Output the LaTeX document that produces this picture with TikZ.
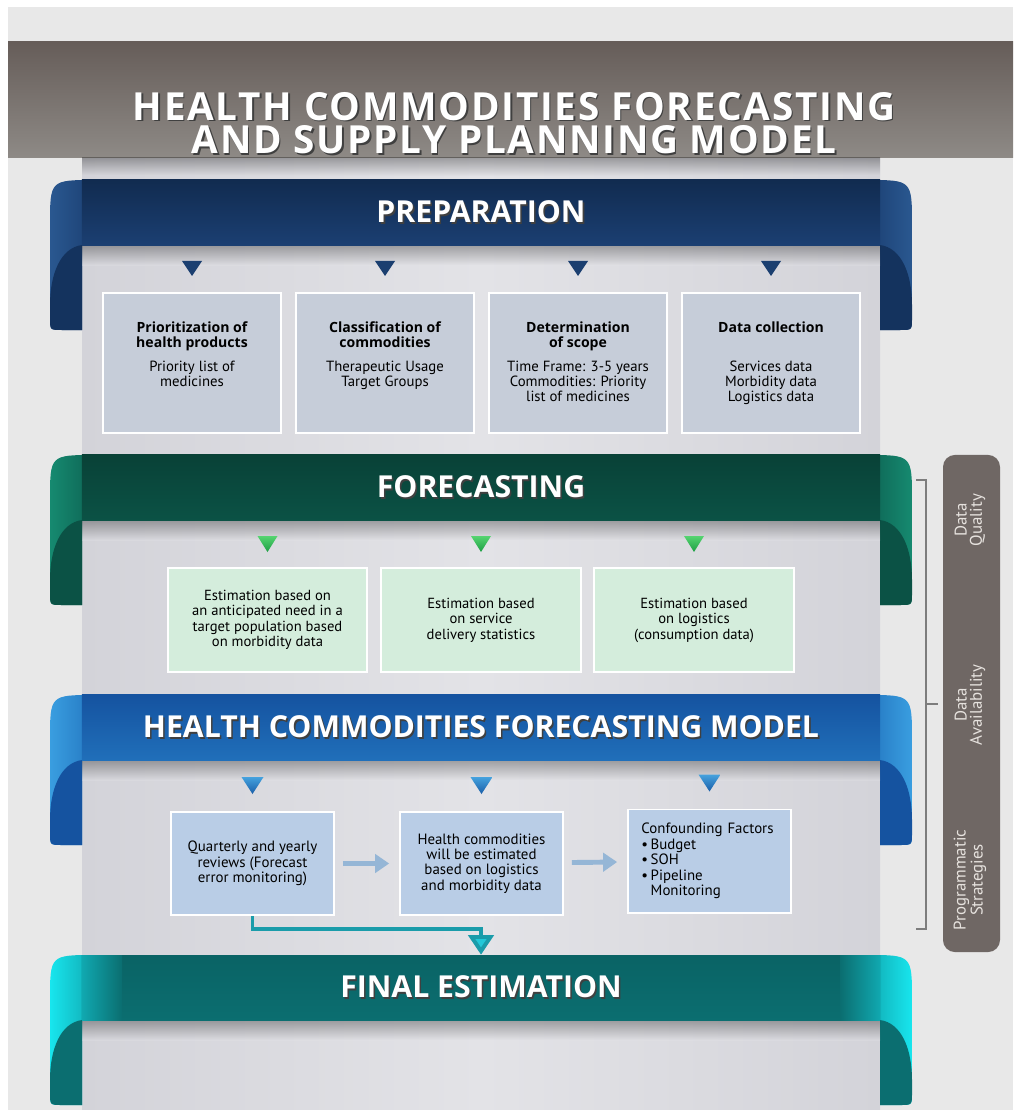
\documentclass[tikz,border=0pt]{standalone}
\usepackage{fontspec}
\setmainfont{PT Sans}
\newfontfamily\headfont{Open Sans}
\newfontfamily\titlefont[LetterSpace=4.5]{Open Sans}
\usetikzlibrary{calc,arrows.meta}

\definecolor{bggray}{HTML}{E8E8E8}
\definecolor{panelmid}{HTML}{E3E3E7}
\definecolor{paneledge}{HTML}{D3D3D9}
\definecolor{titletop}{HTML}{665D59}
\definecolor{titlebot}{HTML}{8E8A86}
% ribbon colours: light curl, mid curl, back of curl
\definecolor{navylite}{HTML}{2A5890}
\definecolor{navymid}{HTML}{1B3F72}
\definecolor{navyback}{HTML}{14335E}
\definecolor{pinelite}{HTML}{168A70}
\definecolor{pinemid}{HTML}{0D6353}
\definecolor{pineback}{HTML}{0B5245}
\definecolor{azurelite}{HTML}{3A9EE0}
\definecolor{azuremid}{HTML}{2376C0}
\definecolor{azureback}{HTML}{1553A0}
\definecolor{finlite}{HTML}{18E6EE}
\definecolor{finmid}{HTML}{10A8B0}
\definecolor{finback}{HTML}{0B6E70}
% boxes
\definecolor{prepfill}{HTML}{C6CDD9}
\definecolor{fcstfill}{HTML}{D4EDDC}
\definecolor{modelfill}{HTML}{B9CDE6}
\definecolor{navymark}{HTML}{1B3F70}
\definecolor{greenA}{HTML}{55D470}
\definecolor{greenB}{HTML}{1E9E44}
\definecolor{blueA}{HTML}{45A2DE}
\definecolor{blueB}{HTML}{1A5EA8}
\definecolor{arrowblue}{HTML}{95B6D6}
\definecolor{feedteal}{HTML}{1A9CAA}
\definecolor{feedcyan}{HTML}{22C8D8}
\definecolor{sidegray}{HTML}{6F6764}
\definecolor{sidetextc}{HTML}{E6E2DE}
\definecolor{bracketgray}{HTML}{7D7D7D}

\newcommand\shadowed[1]{\makebox[0pt][l]{\kern1.1pt\raisebox{-1.1pt}{\color{black!75}#1}}#1}
\newcommand\boxhead[1]{{\headfont\bfseries\fontsize{10}{11.3}\selectfont #1}}

\begin{document}
\begin{tikzpicture}[
    x=0.025cm, y=-0.025cm,
    band/.style={minimum width=19.95cm, minimum height=1.625cm, inner sep=0pt,
        text=white, font=\headfont\bfseries\fontsize{21.5}{24}\selectfont},
    prepbox/.style={draw=white, line width=1.4pt, fill=prepfill, inner sep=0pt,
        minimum width=4.45cm, minimum height=3.5cm, font=\fontsize{10.5}{10.8}\selectfont},
    fcstbox/.style={draw=white, line width=1.4pt, fill=fcstfill, align=center,
        minimum width=4.975cm, minimum height=2.6cm, font=\fontsize{10.4}{11}\selectfont},
    modelbox/.style={draw=white, line width=1.4pt, fill=modelfill, align=center,
        minimum width=4.075cm, minimum height=2.575cm, font=\fontsize{10.6}{11}\selectfont},
    steparrow/.style={-{Triangle[length=10pt,width=13pt]}, line width=3.5pt,
        draw=arrowblue, shorten <=5.6pt, shorten >=7pt},
    feedline/.style={-{Triangle[length=14pt,width=18pt,fill=feedcyan]},
        line width=2.8pt, draw=feedteal},
    sidetext/.style={text=sidetextc, align=center, rotate=90,
        font=\fontsize{12}{11}\selectfont}
]
\useasboundingbox (0,0) rectangle (1013,1110);

% Background
\fill[white] (0,0) rectangle (1013,1110);
\fill[bggray] (8,7) rectangle (1013,1110);
\shade[left color=paneledge, right color=paneledge, middle color=panelmid] (82,158) rectangle (880,1110);

% Title
\shade[top color=titletop, bottom color=titlebot] (8,42) rectangle (1013,158);
\shade[top color=black, bottom color=panelmid, opacity=0.3] (82,158) rectangle (880,176);
\node[text=white, align=center, font=\titlefont\bfseries\fontsize{27.5}{24}\selectfont] (title) at (514,124)
    {\shadowed{HEALTH COMMODITIES FORECASTING}\\\shadowed{AND SUPPLY PLANNING MODEL}};

% Ribbon curls
\foreach \yy/\lite/\mid/\back in {180/navylite/navymid/navyback, 455/pinelite/pinemid/pineback,
        695/azurelite/azuremid/azureback, 955/finlite/finmid/finback} {
    % left curl
    \shade[left color=\lite, right color=\mid] (95,\yy) .. controls (50,\yy) .. (50,\yy+45)
        -- (50,\yy+138) .. controls (50,\yy+150) .. (62,\yy+150) -- (82,\yy+150) -- (82,\yy+65)
        -- (95,\yy+65) -- cycle;
    \fill[\back] (82,\yy+65) .. controls (60,\yy+68) and (50,\yy+95) .. (50,\yy+125)
        -- (50,\yy+138) .. controls (50,\yy+150) .. (62,\yy+150) -- (82,\yy+150) -- cycle;
    % right curl
    \shade[left color=\mid, right color=\lite] (867,\yy) .. controls (912,\yy) .. (912,\yy+45)
        -- (912,\yy+138) .. controls (912,\yy+150) .. (900,\yy+150) -- (880,\yy+150) -- (880,\yy+65)
        -- (867,\yy+65) -- cycle;
    \fill[\back] (880,\yy+65) .. controls (902,\yy+68) and (912,\yy+95) .. (912,\yy+125)
        -- (912,\yy+138) .. controls (912,\yy+150) .. (900,\yy+150) -- (880,\yy+150) -- cycle;
    % shadow under the band
    \shade[top color=black, bottom color=panelmid, opacity=0.3] (82,\yy+65) rectangle (880,\yy+85);
}

% Bands
\node[band, top color=navyback!85!black, bottom color=navymid] (prep) at (481,212.5) {\shadowed{PREPARATION}};
\node[band, top color=pineback!80!black, bottom color=pineback] (fcst) at (481,487.5) {\shadowed{FORECASTING}};
\node[band, top color=azureback, bottom color=azuremid!80!azureback] (model) at (481,727.5)
    {\shadowed{HEALTH COMMODITIES FORECASTING MODEL}};
\node[band, top color=finback!90!black, bottom color=finback] (final) at (481,987.5) {};
\shade[left color=finmid, right color=finback] (82,955) rectangle (122,1020);
\shade[left color=finback, right color=finmid] (840,955) rectangle (880,1020);
\node[text=white, font=\headfont\bfseries\fontsize{21.5}{24}\selectfont] (fintext) at (final) {\shadowed{FINAL ESTIMATION}};

% Preparation boxes
\node[prepbox] (p1) at (192,363) {\parbox[c][3.5cm][t]{4.3cm}{\centering\vspace*{0.72cm}%
    \boxhead{Prioritization of\\health products}\\[6pt]Priority list of\\medicines}};
\node[prepbox] (p2) at (385,363) {\parbox[c][3.5cm][t]{4.3cm}{\centering\vspace*{0.72cm}%
    \boxhead{Classification of\\commodities}\\[6pt]Therapeutic Usage\\Target Groups}};
\node[prepbox] (p3) at (578,363) {\parbox[c][3.5cm][t]{4.3cm}{\centering\vspace*{0.72cm}%
    \boxhead{Determination\\of scope}\\[6pt]Time Frame: 3-5 years\\Commodities: Priority\\list of medicines}};
\node[prepbox] (p4) at (771,363) {\parbox[c][3.5cm][t]{4.3cm}{\centering\vspace*{0.72cm}%
    \boxhead{Data collection}\\[17pt]Services data\\Morbidity data\\Logistics data}};

% Forecasting boxes
\node[fcstbox] (f1) at (267.5,620) {Estimation based on\\an anticipated need in a\\target population based\\on morbidity data};
\node[fcstbox] (f2) at (481,620) {Estimation based\\on service\\delivery statistics};
\node[fcstbox] (f3) at (694,620) {Estimation based\\on logistics\\(consumption data)};

% Model boxes
\node[modelbox] (m1) at (252.5,863.5) {Quarterly and yearly\\reviews (Forecast\\error monitoring)};
\node[modelbox] (m2) at (481.5,863.5) {Health commodities\\will be estimated\\based on logistics\\and morbidity data};
\node[modelbox, align=left, text width=3.4cm] (m3) at (709.5,861)
    {Confounding Factors\\\textbullet\,Budget\\\textbullet\,SOH\\\textbullet\,Pipeline\\\phantom{\textbullet\,}Monitoring};

% Markers above the boxes
\foreach \b in {p1,p2,p3,p4}
    \fill[navymark] ($(\b.north)+(-10,-31)$) -- ($(\b.north)+(10,-31)$) -- ($(\b.north)+(0,-16)$) -- cycle;
\foreach \b in {f1,f2,f3}
    \shade[top color=greenA, bottom color=greenB] ($(\b.north)+(-10,-31)$) -- ($(\b.north)+(10,-31)$) -- ($(\b.north)+(0,-15)$) -- cycle;
\foreach \b in {m1,m2,m3}
    \shade[top color=blueA, bottom color=blueB] ($(\b.north)+(-11,-34)$) -- ($(\b.north)+(11,-34)$) -- ($(\b.north)+(0,-17)$) -- cycle;

% Flow arrows
\draw[steparrow] (m1) -- (m2);
\draw[steparrow] (m2) -- (m3);
\draw[feedline] (m1.south) -- ++(0,13) -| (final.north);

% Side bar
\draw[bracketgray, line width=1.8pt] (916,480) -- (926,480) -- (926,929) -- (916,929);
\draw[bracketgray, line width=1.8pt] (926,704) -- (938,704);
\node[fill=sidegray, rounded corners=0.3cm, minimum width=1.425cm, minimum height=12.425cm] (side) at (971.5,703.5) {};
\node[sidetext] (dq) at (970,520) {Data\\Quality};
\node[sidetext] (da) at (970,705) {Data\\Availability};
\node[sidetext] (ps) at (970,880) {Programmatic\\Strategies};

\end{tikzpicture}
\end{document}
